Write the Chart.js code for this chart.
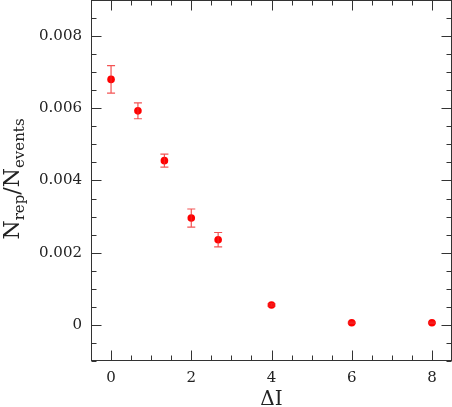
<!DOCTYPE html>
<html>
<head>
<meta charset="utf-8">
<script src="https://cdn.jsdelivr.net/npm/chart.js@4"></script>
<style>
  html, body { margin: 0; padding: 0; background: #fff; }
  #wrap { width: 452px; height: 407px; }
</style>
</head>
<body>
<div id="wrap"><canvas id="c" width="452" height="407"></canvas></div>
<script>
// data
var deltaI   = [0, 0.67, 1.33, 2, 2.67, 4, 6, 8];
var ratio    = [0.0068, 0.00593, 0.00455, 0.00296, 0.00236, 0.00055, 0.00006, 0.00006];
var ratioErr = [0.00038, 0.00022, 0.00018, 0.00025, 0.0002, 0.00003, 0.00002, 0.00002];

var xTicks = [0, 2, 4, 6, 8];
var yTicks = [0, 0.002, 0.004, 0.006, 0.008];

var RED = '#ff0000';
var AXC = '#333333';
var FONT = 'DejaVu Serif';

// frame, inward ticks (major + minor) and the two axis titles
var framePlugin = {
  id: 'frame',
  afterDraw: function (chart) {
    var ctx = chart.ctx, a = chart.chartArea;
    var xs = chart.scales.x, ys = chart.scales.y;
    var L = Math.round(a.left) + 0.5, R = Math.round(a.right) - 0.5;
    var T = Math.round(a.top) + 0.5, B = Math.round(a.bottom) - 0.5;
    ctx.save();
    ctx.strokeStyle = AXC;
    ctx.lineWidth = 1;
    ctx.strokeRect(L, T, R - L, B - T);

    var v, px, len;
    ctx.beginPath();
    for (v = -0.5; v <= 8.5 + 1e-9; v += 0.5) {
      px = Math.round(xs.getPixelForValue(v)) + 0.5;
      len = (Math.abs(v % 2) < 1e-9) ? 10 : 5;
      ctx.moveTo(px, B); ctx.lineTo(px, B - len);
      ctx.moveTo(px, T); ctx.lineTo(px, T + len);
    }
    for (v = -0.001; v <= 0.009 + 1e-12; v += 0.0005) {
      px = Math.round(ys.getPixelForValue(v)) + 0.5;
      var k = Math.round(v / 0.0005);
      len = (k % 4 === 0) ? 10 : 5;
      ctx.moveTo(L, px); ctx.lineTo(L + len, px);
      ctx.moveTo(R, px); ctx.lineTo(R - len, px);
    }
    ctx.stroke();

    // x title
    ctx.fillStyle = '#222';
    ctx.font = '20px ' + FONT;
    ctx.textAlign = 'center';
    ctx.textBaseline = 'alphabetic';
    ctx.fillText('\u0394I', (a.left + a.right) / 2, 405);

    // y title N_rep / N_events, rotated
    ctx.translate(19, 179);
    ctx.rotate(-Math.PI / 2);
    var big = '22px ' + FONT, sub = '15px ' + FONT;
    var parts = [
      [big, 'N', 0], [sub, 'rep', 5], [big, '/', 0],
      [big, 'N', 0], [sub, 'events', 5]
    ];
    var total = 0, i;
    for (i = 0; i < parts.length; i++) { ctx.font = parts[i][0]; total += ctx.measureText(parts[i][1]).width; }
    var x0 = -total / 2;
    ctx.textAlign = 'left';
    for (i = 0; i < parts.length; i++) {
      ctx.font = parts[i][0];
      ctx.fillText(parts[i][1], x0, parts[i][2]);
      x0 += ctx.measureText(parts[i][1]).width;
    }
    ctx.restore();
  }
};

// vertical error bars with small caps
var errPlugin = {
  id: 'errbars',
  afterDatasetsDraw: function (chart) {
    var ctx = chart.ctx, xs = chart.scales.x, ys = chart.scales.y;
    ctx.save();
    ctx.strokeStyle = 'rgba(240,40,40,0.8)';
    ctx.lineWidth = 1.2;
    for (var i = 0; i < deltaI.length; i++) {
      var px = xs.getPixelForValue(deltaI[i]);
      var y1 = ys.getPixelForValue(ratio[i] + ratioErr[i]);
      var y2 = ys.getPixelForValue(ratio[i] - ratioErr[i]);
      ctx.beginPath();
      ctx.moveTo(px, y1); ctx.lineTo(px, y2);
      ctx.moveTo(px - 4, y1); ctx.lineTo(px + 4, y1);
      ctx.moveTo(px - 4, y2); ctx.lineTo(px + 4, y2);
      ctx.stroke();
    }
    ctx.restore();
  }
};

var pts = deltaI.map(function (x, i) { return { x: x, y: ratio[i] }; });

new Chart(document.getElementById('c'), {
  type: 'scatter',
  data: {
    datasets: [{
      data: pts,
      backgroundColor: RED,
      borderColor: RED,
      pointRadius: 3.8,
      borderWidth: 0
    }]
  },
  options: {
    responsive: false,
    animation: false,
    events: [],
    layout: { autoPadding: false, padding: 0 },
    plugins: { legend: { display: false }, tooltip: { enabled: false } },
    scales: {
      x: {
        type: 'linear', min: -0.5, max: 8.5,
        grid: { display: false, drawTicks: false }, border: { display: false },
        afterBuildTicks: function (s) { s.ticks = xTicks.map(function (v) { return { value: v }; }); },
        afterFit: function (s) { s.height = 46; s.paddingLeft = 0; s.paddingRight = 0; },
        ticks: { color: '#222', padding: 8, font: { family: FONT, size: 15 },
          callback: function (v) { return String(v); } }
      },
      y: {
        type: 'linear', min: -0.001, max: 0.009,
        grid: { display: false, drawTicks: false }, border: { display: false },
        afterBuildTicks: function (s) { s.ticks = yTicks.map(function (v) { return { value: v }; }); },
        afterFit: function (s) { s.width = 91; s.paddingTop = 0; s.paddingBottom = 0; },
        ticks: { color: '#222', padding: 9, font: { family: FONT, size: 15 },
          callback: function (v) { return v === 0 ? '0' : v.toFixed(3); } }
      }
    }
  },
  plugins: [errPlugin, framePlugin]
});
</script>
</body>
</html>
